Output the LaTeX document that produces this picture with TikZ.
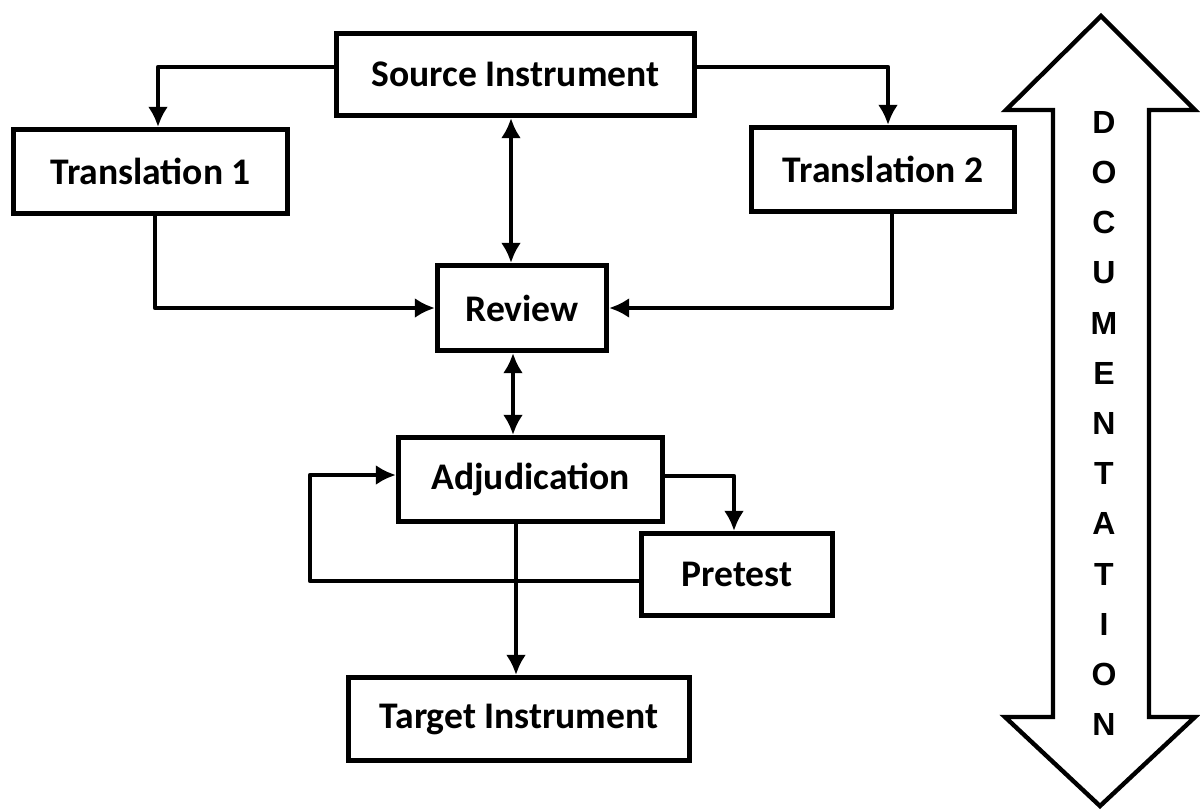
\documentclass[tikz,border=0pt]{standalone}
\usepackage{fontspec}
\setmainfont{Carlito}
\newfontfamily\letrafont{Liberation Sans}
\usetikzlibrary{arrows.meta, calc, positioning}
\tikzset{
	every node/.style={
		font=\bfseries\fontsize{18.8}{22}\selectfont
	},
	bloque/.style={
		shape=rectangle,
		line width=2.6pt,
		inner sep=0pt,
		text centered,
		draw,
	},
	flecha/.style={
		line width=2.4pt,
		line join=round,
		draw,
	},
	myarrow/.style={flecha, -{Latex[length=10pt,width=10pt]}},
	myarrow2/.style={flecha, {Latex[length=10pt,width=10pt]}-{Latex[length=10pt,width=10pt]}},
}

\begin{document}
\begin{tikzpicture}[x=0.5pt, y=-0.5pt]

\useasboundingbox (0,0) rectangle (1200,810);

% cajas
\node [bloque, minimum width=179pt, minimum height=41pt] (src) at (515.5,74.5) {Source Instrument};
\node [bloque, minimum width=137pt, minimum height=42pt] (t1) at (150.5,171.5) {Translation 1};
\node [bloque, minimum width=131.5pt, minimum height=42pt] (t2) at (883,169.5) {Translation 2};
\node [bloque, minimum width=84.5pt, minimum height=42.5pt] (rev) at (522,308) {Review};
\node [bloque, minimum width=132pt, minimum height=42pt] (adj) at (530.5,479.5) {Adjudication};
\node [bloque, minimum width=95.5pt, minimum height=41pt] (pre) at (737,574.5) {Pretest};
\node [bloque, minimum width=170.5pt, minimum height=41.5pt] (tgt) at (519,719) {Target Instrument};

% ejes de las flechas verticales
\coordinate (ejeA) at (511,0);
\coordinate (ejeB) at (513,0);
\coordinate (ejeC) at (516,0);
\coordinate (lazo) at (310,530);

% flechas
\draw [myarrow] ([yshift=3.75pt]src.west) -| ([xshift=3.75pt]t1.north);
\draw [myarrow] ([yshift=3.75pt]src.east) -| ([xshift=2.5pt]t2.north);
\draw [myarrow2] (src.south -| ejeA) -- (rev.north -| ejeA);
\draw [myarrow] ([xshift=2.25pt]t1.south) |- (rev.west);
\draw [myarrow] ([xshift=4.5pt]t2.south) |- (rev.east);
\draw [myarrow2] (rev.south -| ejeB) -- (adj.north -| ejeB);
\draw [myarrow] ([yshift=1.75pt]adj.east) -| ([xshift=-1.5pt]pre.north);
\draw [myarrow] (adj.south -| ejeC) -- (tgt.north -| ejeC);
\draw [myarrow] ([yshift=-3.25pt]pre.west) -| (lazo) |- ([yshift=2.25pt]adj.west);

% flecha doble de documentacion
\draw [line width=2.2pt, line join=miter]
	(1101,16) -- (1195,110) -- (1149,110) -- (1149,717) -- (1195,717)
	-- (1100,806) -- (1005,717) -- (1053,717) -- (1053,110) -- (1006,110) -- cycle;
\node [font=\letrafont\bfseries\fontsize{16}{25.1}\selectfont, align=center, inner sep=0pt] (doc) at (1104,423.5)
	{D\\O\\C\\U\\M\\E\\N\\T\\A\\T\\I\\O\\N};

\end{tikzpicture}
\end{document}
